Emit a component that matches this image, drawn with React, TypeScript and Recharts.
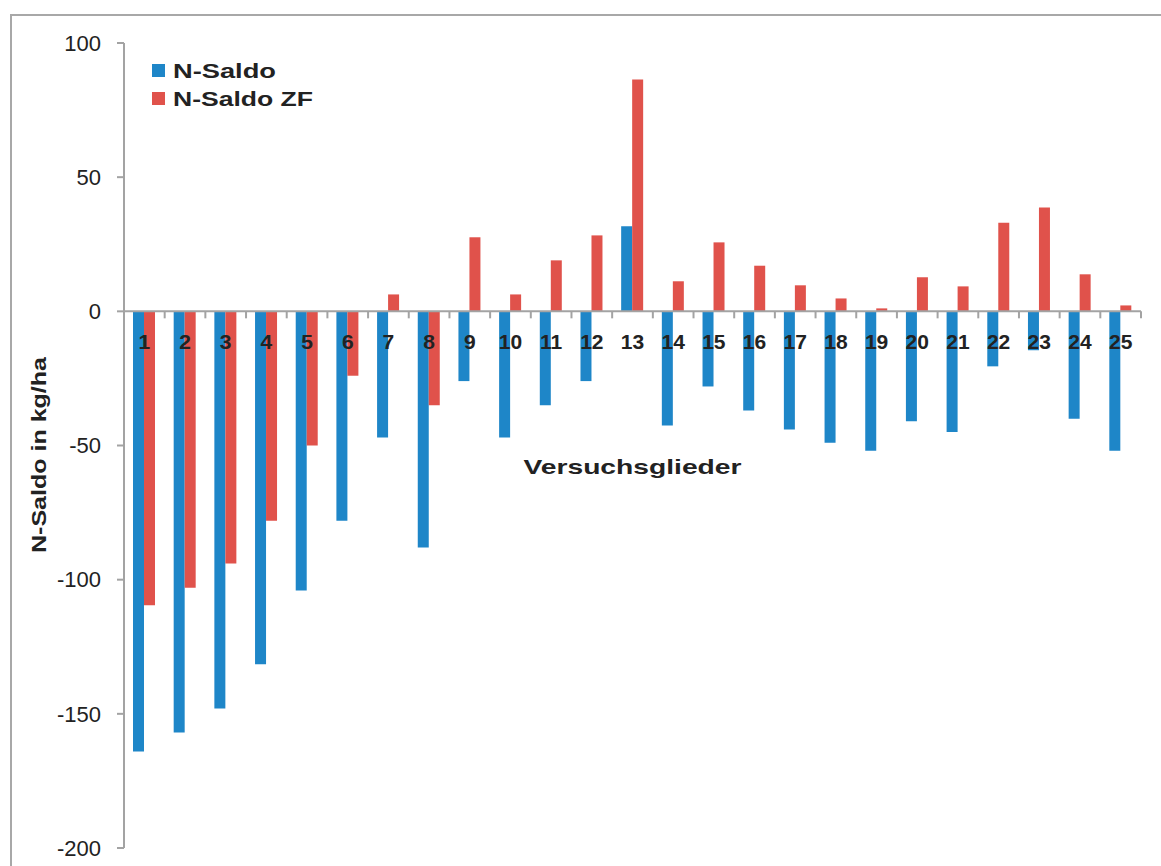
import { BarChart, Bar, XAxis, YAxis, ReferenceLine, Legend } from 'recharts';

const categories = ['1', '2', '3', '4', '5', '6', '7', '8', '9', '10', '11', '12', '13',
  '14', '15', '16', '17', '18', '19', '20', '21', '22', '23', '24', '25'];
const nSaldo = [-164, -157, -148, -131.5, -104, -78, -47, -88, -26, -47, -35, -26, 31.7,
  -42.5, -28, -37, -44, -49, -52, -41, -45, -20.5, -14.5, -40, -52];
const nSaldoZF = [-109.5, -103, -94, -78, -50, -24, 6.3, -35, 27.6, 6.3, 19, 28.3, 86.4,
  11.2, 25.7, 17, 9.7, 4.8, 1.1, 12.7, 9.3, 33, 38.7, 13.8, 2.2];
const yTicks = [100, 50, 0, -50, -100, -150, -200];
const yDomain = [-200, 100];

const data = categories.map((c, i) => ({ name: c, saldo: nSaldo[i], saldoZF: nSaldoZF[i] }));

const W = 1161;
const H = 866;
const margin = { top: 43, right: 20, bottom: 17, left: 24 };
const Y_AXIS_W = 100;
const X_AXIS_H = 1;
const plotTop = margin.top;
const plotH = H - margin.top - margin.bottom - X_AXIS_H;
const plotW = W - margin.left - margin.right - Y_AXIS_W;
// pixel row of the zero line, where the category labels hang
const zeroY = plotTop + plotH * (yDomain[1] / (yDomain[1] - yDomain[0]));
const bandW = plotW / categories.length;

const FONT = '"Liberation Sans", Arial, sans-serif';
const AXIS = '#a3a3a3';
const BLUE = '#1e86c8';
const RED = '#e0524b';

function CategoryTick(props: any) {
  const { x, payload } = props;
  return (
    <g>
      <line x1={x + bandW / 2} x2={x + bandW / 2} y1={zeroY} y2={zeroY + 7} stroke={AXIS} strokeWidth={2} />
      <text x={x} y={zeroY + 38} textAnchor="middle" fontFamily={FONT} fontWeight="bold" fontSize={21} fill="#222">
        {payload.value}
      </text>
    </g>
  );
}

function LegendBox(props: any) {
  const items = props.payload || [];
  const widths: Record<string, number> = { 'N-Saldo': 103, 'N-Saldo ZF': 140 };
  return (
    <svg width={200} height={60}>
      {items.map((it: any, i: number) => (
        <g key={it.value}>
          <rect x={0} y={7 + i * 28} width={13} height={13} fill={it.color} />
          <text x={21} y={21 + i * 28} fontFamily={FONT} fontWeight="bold" fontSize={21} fill="#222"
            textLength={widths[it.value]} lengthAdjust="spacingAndGlyphs">
            {it.value}
          </text>
        </g>
      ))}
    </svg>
  );
}

export default function App() {
  return (
    <div style={{ position: 'absolute', left: 0, top: 0, width: W, height: H, background: '#fff', overflow: 'hidden' }}>
      <div style={{ position: 'absolute', left: 10, top: 14, width: W, height: H, borderLeft: '2px solid #a8a8a8', borderTop: '2px solid #a8a8a8' }} />
      <BarChart width={W} height={H} data={data} margin={margin} barCategoryGap={9} barGap={0}
        style={{ position: 'absolute', left: 0, top: 0 }}>
        <XAxis dataKey="name" height={X_AXIS_H} axisLine={false} tickLine={false} interval={0} tick={<CategoryTick />} />
        <YAxis
          width={Y_AXIS_W}
          domain={yDomain}
          ticks={yTicks}
          interval={0}
          axisLine={{ stroke: AXIS, strokeWidth: 2 }}
          tickLine={{ stroke: AXIS, strokeWidth: 2 }}
          tickSize={7}
          tickMargin={16}
          tick={{ fontFamily: FONT, fontSize: 22, fill: '#222' }}
          label={{
            content: () => (
              <text x={38} y={455} transform="rotate(-90 38 455)" textAnchor="middle" dominantBaseline="central"
                fontFamily={FONT} fontWeight="bold" fontSize={21} fill="#222" textLength={196} lengthAdjust="spacingAndGlyphs">
                N-Saldo in kg/ha
              </text>
            ),
          }}
        />
        <Legend
          layout="horizontal"
          verticalAlign="middle"
          align="center"
          content={<LegendBox />}
          wrapperStyle={{ left: 152, top: 57, width: 200, bottom: 'auto', right: 'auto' }}
        />
        <Bar dataKey="saldo" name="N-Saldo" fill={BLUE} isAnimationActive={false} />
        <Bar dataKey="saldoZF" name="N-Saldo ZF" fill={RED} isAnimationActive={false} />
        <ReferenceLine
          y={0}
          stroke={AXIS}
          strokeWidth={2}
          label={{
            content: (p: any) => {
              const vb = p.viewBox || { x: 124, y: zeroY, width: plotW };
              return (
                <text x={vb.x + vb.width / 2} y={vb.y + 163} textAnchor="middle" fontFamily={FONT} fontWeight="bold"
                  fontSize={21} fill="#222" textLength={218} lengthAdjust="spacingAndGlyphs">
                  Versuchsglieder
                </text>
              );
            },
          }}
        />
      </BarChart>
    </div>
  );
}
